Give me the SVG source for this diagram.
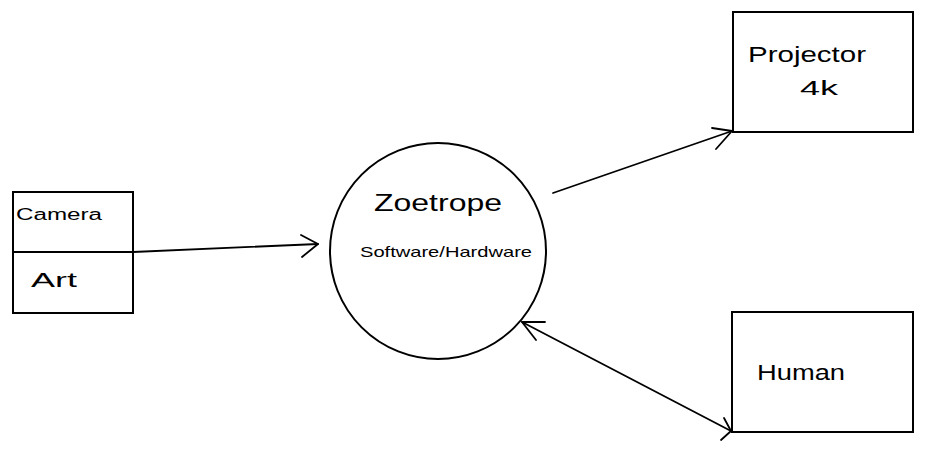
<svg xmlns="http://www.w3.org/2000/svg" width="925" height="453" viewBox="0 0 925 453">
<style>
.box{fill:none;stroke:#000;stroke-width:2}
.ln{fill:none;stroke:#000;stroke-width:1.8;stroke-linecap:round;stroke-linejoin:round}
text{font-family:"Liberation Sans",sans-serif;fill:#000}
</style>
<rect width="925" height="453" fill="#fff"/>
<g id="camera">
<rect class="box" x="13" y="192" width="120" height="121"/>
<line class="box" x1="13" y1="252" x2="133" y2="252"/>
<text x="16" y="220" font-size="16" textLength="86" lengthAdjust="spacingAndGlyphs">Camera</text>
<text x="31" y="287" font-size="20" textLength="46" lengthAdjust="spacingAndGlyphs">Art</text>
</g>
<g id="zoetrope">
<circle class="box" cx="438" cy="251" r="108"/>
<text x="374" y="211" font-size="24" textLength="128" lengthAdjust="spacingAndGlyphs">Zoetrope</text>
<text x="360" y="257" font-size="15" textLength="172" lengthAdjust="spacingAndGlyphs">Software/Hardware</text>
</g>
<g id="projector">
<rect class="box" x="733" y="12" width="180" height="120"/>
<text x="748" y="62" font-size="22" textLength="118" lengthAdjust="spacingAndGlyphs">Projector</text>
<text x="800" y="95" font-size="20" textLength="38" lengthAdjust="spacingAndGlyphs">4k</text>
</g>
<g id="human">
<rect class="box" x="732" y="312" width="181" height="120"/>
<text x="757" y="380" font-size="22" textLength="88" lengthAdjust="spacingAndGlyphs">Human</text>
</g>
<g id="connectors">
<path class="ln" d="M133 252 L318 244"/>
<path class="ln" d="M301 235 L318 244 L302 257"/>
<path class="ln" d="M553 193 L732 131"/>
<path class="ln" d="M712 128 L732 131 L716 149"/>
<path class="ln" d="M522 322 L731 431"/>
<path class="ln" d="M545 322 L522 322 L536 340"/>
<path class="ln" d="M724 418 L731 431 L721 440"/>
</g>
</svg>
